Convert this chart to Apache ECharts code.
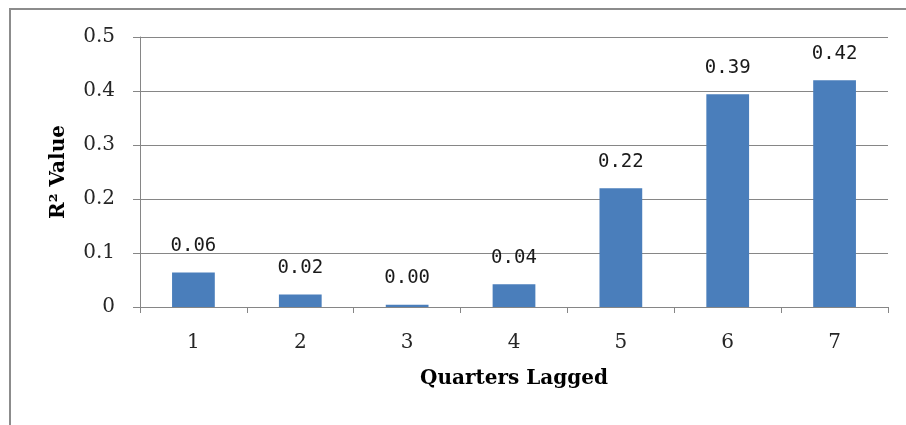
<!DOCTYPE html>
<html>
<head>
<meta charset="utf-8">
<script src="https://cdn.jsdelivr.net/npm/echarts@6/dist/echarts.min.js"></script>
<style>
html,body{margin:0;padding:0;background:#fff;}
#frame{position:absolute;left:9px;top:8px;width:897px;height:417px;border-left:2px solid #8c8c8c;border-top:2px solid #8c8c8c;box-sizing:border-box;}
#chart{position:absolute;left:0;top:0;width:906px;height:425px;}
</style>
</head>
<body>
<div id="frame"></div>
<div id="chart"></div>
<script>
const categories = ['1', '2', '3', '4', '5', '6', '7'];
const r2Values = [0.064, 0.023, 0.004, 0.042, 0.22, 0.394, 0.42];
const valueLabels = ['0.06', '0.02', '0.00', '0.04', '0.22', '0.39', '0.42'];
const yTicks = [0, 0.1, 0.2, 0.3, 0.4, 0.5];

const chart = echarts.init(document.getElementById('chart'), null, {renderer: 'canvas'});
chart.setOption({
  animation: false,
  backgroundColor: 'transparent',
  grid: {left: 140, right: 18, top: 37, bottom: 118, containLabel: false},
  xAxis: {
    type: 'category',
    data: categories,
    boundaryGap: true,
    axisLine: {lineStyle: {color: '#868686', width: 1}},
    axisTick: {show: true, length: 6, alignWithLabel: false, lineStyle: {color: '#868686'}},
    axisLabel: {fontFamily: 'DejaVu Serif', fontSize: 20, color: '#262626', margin: 26},
    name: 'Quarters Lagged',
    nameLocation: 'middle',
    nameGap: 62,
    nameTextStyle: {fontFamily: 'DejaVu Serif', fontWeight: 'bold', fontSize: 20, color: '#000'}
  },
  yAxis: {
    type: 'value',
    min: 0, max: 0.5, interval: 0.1,
    axisLine: {show: true, lineStyle: {color: '#868686', width: 1}},
    axisTick: {show: true, length: 7, lineStyle: {color: '#868686'}},
    splitLine: {show: true, lineStyle: {color: '#868686', width: 1}},
    axisLabel: {
      fontFamily: 'DejaVu Serif', fontSize: 20, color: '#262626', margin: 25,
      formatter: function (v) {
        const idx = yTicks.findIndex(t => Math.abs(t - v) < 1e-9);
        return idx === 0 ? '0' : yTicks[idx].toFixed(1);
      }
    },
    name: 'R\u00B2 Value',
    nameLocation: 'middle',
    nameGap: 71,
    nameTextStyle: {fontFamily: 'DejaVu Serif', fontWeight: 'bold', fontSize: 20, color: '#000'}
  },
  series: [{
    type: 'bar',
    data: r2Values,
    barWidth: '40%',
    itemStyle: {color: '#4a7ebb'},
    label: {
      show: true,
      position: 'top',
      distance: 17,
      fontFamily: 'DejaVu Sans Mono',
      fontSize: 19,
      color: '#1a1a1a',
      formatter: function (p) { return valueLabels[p.dataIndex]; }
    }
  }]
});
</script>
</body>
</html>
